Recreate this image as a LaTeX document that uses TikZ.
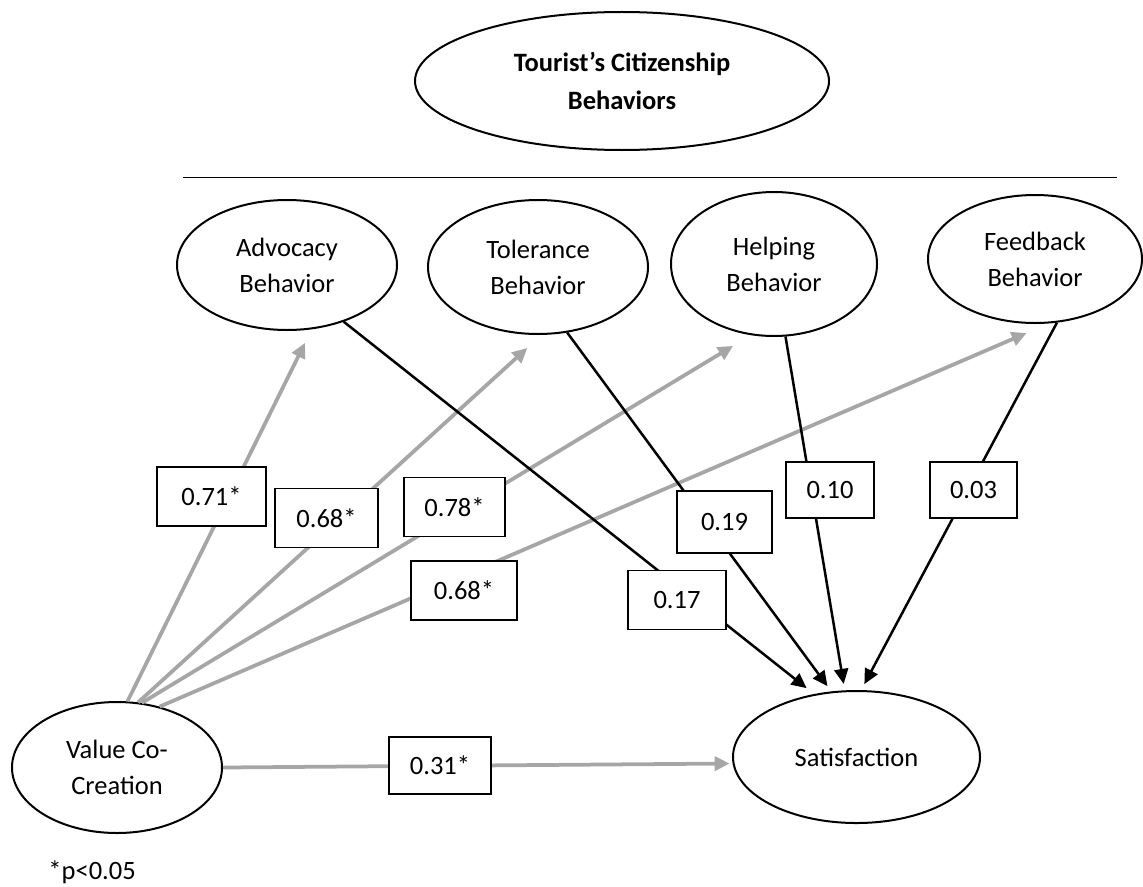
\documentclass[tikz,border=0pt]{standalone}
\usepackage{fontspec}
\setmainfont{Carlito}
\usepackage{tikz}
\usetikzlibrary{arrows.meta,shapes}

\definecolor{pathgray}{RGB}{166,166,166}

\begin{document}
\begin{tikzpicture}
	[x=0.4pt,y=-0.4pt,>={Triangle[length=6pt,width=5.6pt]},
	 font=\fontsize{10.6}{14.4}\selectfont,
	 latent/.style={ellipse,draw,line width=0.8pt,inner sep=0pt,align=center},
	 coef/.style={rectangle,draw,line width=0.5pt,fill=white,minimum height=23.6pt,inner sep=0pt},
	 effect/.style={->,color=pathgray,line width=1.5pt},
	 direct/.style={->,line width=1pt}]
\useasboundingbox (0,0) rectangle (1143,886);

\node[latent,minimum width=165.6pt,minimum height=55.2pt,font=\fontsize{10.6}{15.2}\selectfont\bfseries](tcb) at (622,81){Tourist’s Citizenship\\Behaviors};
\draw[line width=0.4pt] (183,177) -- (1117,177);

\node[latent,minimum width=88pt,minimum height=52pt](adv) at (287,265){Advocacy\\Behavior};
\node[latent,minimum width=88pt,minimum height=53.6pt](tol) at (538,267){Tolerance\\Behavior};
\node[latent,minimum width=82.4pt,minimum height=57.6pt](hlp) at (774,264){Helping\\Behavior};
\node[latent,minimum width=85.6pt,minimum height=51.2pt](fbk) at (1035,259){Feedback\\Behavior};
\node[latent,minimum width=84pt,minimum height=52.4pt](vcc) at (117,767.5){Value Co-\\Creation};
\node[latent,minimum width=98.8pt,minimum height=52.8pt](sat) at (856.5,757){Satisfaction};

\path[effect]
	(vcc.81)	edge[shorten >=6pt] (adv.-69)
	(vcc.72)	edge[shorten >=7.7pt] (tol.-87)
	(vcc.69)	edge[shorten >=8.3pt] (hlp.-108)
	(vcc.55)	edge[shorten >=9.6pt] (fbk.-78)
	(vcc.east)	edge[shorten >=1.2pt] (sat.183);
\path[direct]
	(adv.-45)	edge[shorten >=3.8pt] (sat.124)
	(tol.-66)	edge[shorten >=2.6pt] (sat.111)
	(hlp.-81)	edge[shorten >=2.6pt] (sat.100)
	(fbk.-71)	edge[shorten >=2.7pt] (sat.86);

\node[coef,minimum width=43.6pt](c_71) at (211.5,496.5){0.71*};
\node[coef,minimum width=41.2pt](c_68a) at (326.5,518){0.68*};
\node[coef,minimum width=40.4pt](c_78) at (454.5,507){0.78*};
\node[coef,minimum width=42.4pt](c_68b) at (464,590.5){0.68*};
\node[coef,minimum width=39.2pt](c_17) at (677,600){0.17};
\node[coef,minimum width=38pt,minimum height=24.8pt](c_19) at (724.5,522){0.19};
\node[coef,minimum width=35.2pt,minimum height=22.4pt](c_10) at (830,490){0.10};
\node[coef,minimum width=34.8pt,minimum height=22.4pt](c_03) at (973.5,490){0.03};
\node[coef,minimum width=40.8pt,minimum height=22.8pt](c_31) at (440,765.5){0.31*};

\node[anchor=west,inner sep=0pt](note) at (48,872){*p<0.05};
\end{tikzpicture}
\end{document}
